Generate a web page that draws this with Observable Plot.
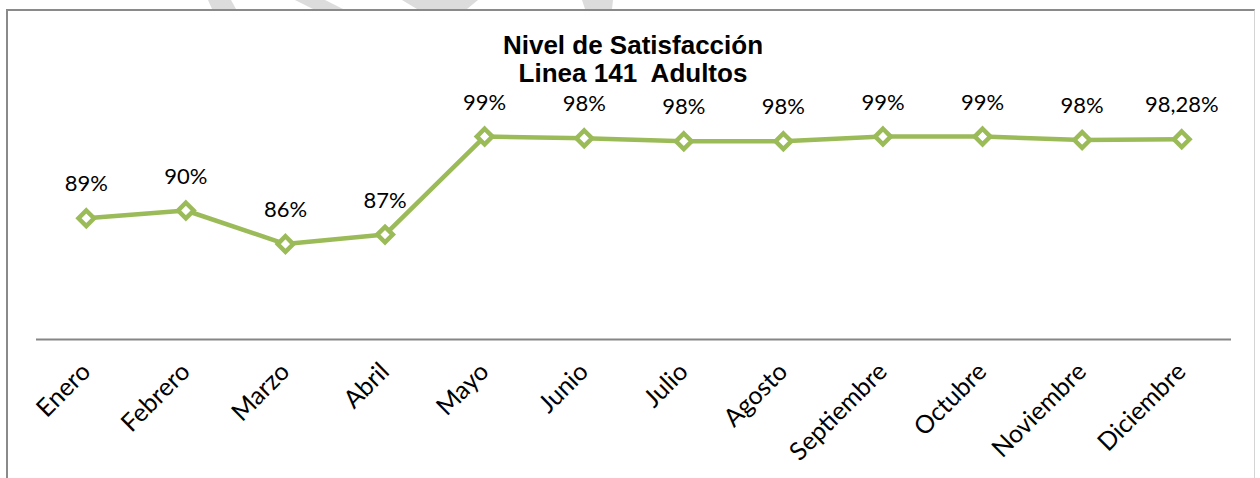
<!DOCTYPE html>
<html>
<head>
<meta charset="utf-8">
<script src="https://cdn.jsdelivr.net/npm/d3@7"></script>
<script src="https://cdn.jsdelivr.net/npm/@observablehq/plot@0.6"></script>
<style>
  html, body { margin: 0; padding: 0; background: #fff; }
  #wrap { position: relative; width: 1260px; height: 478px; overflow: hidden; background: #fff; }
  #wrap > * { position: absolute; left: 0; top: 0; }
  #frame { left: 6px; top: 9px; width: 1249px; height: 520px; border-left: 2px solid #8a8a8a; border-top: 2px solid #8a8a8a; border-right: 1.5px solid #d4d4d4; box-sizing: border-box; }
  #title { left: 0; top: 31px; width: 1266px; text-align: center; font-family: "Liberation Sans", Arial, sans-serif; font-weight: bold; font-size: 26px; line-height: 28px; color: #000; }
</style>
</head>
<body>
<div id="wrap">
  <svg id="wm" width="1260" height="10" viewBox="0 0 1260 10">
    <polygon points="208,0 231,0 236,9 212,9" fill="#dcdcdc"/>
    <polygon points="295,0 325,0 343,9 313,9" fill="#dcdcdc"/>
    <polygon points="402,0 478,0 467,9 417,9" fill="#dcdcdc"/>
    <polygon points="582,0 613,0 612,9 585,9" fill="#dcdcdc"/>
  </svg>
  <div id="frame"></div>
  <div id="chart"></div>
  <div id="title">Nivel de Satisfacción<br>Linea 141&nbsp; Adultos</div>
</div>
<script>
const months = ["Enero","Febrero","Marzo","Abril","Mayo","Junio","Julio","Agosto","Septiembre","Octubre","Noviembre","Diciembre"];
const values = [89.1, 90.0, 86.1, 87.2, 98.6, 98.4, 98.05, 98.05, 98.6, 98.6, 98.2, 98.28];
const labels = ["89%","90%","86%","87%","99%","98%","98%","98%","99%","99%","98%","98,28%"];

const data = months.map((m, i) => ({month: m, value: values[i], label: labels[i]}));
const green = "#9bbb59";

const chart = Plot.plot({
  width: 1260,
  height: 478,
  marginLeft: 36,
  marginRight: 29,
  marginTop: 124,
  marginBottom: 139,
  style: {fontFamily: "Lato, sans-serif", fontSize: "22px", color: "#000", background: "transparent", overflow: "visible"},
  x: {type: "band", domain: months, padding: 0, round: false, axis: null},
  y: {domain: [75, 100], axis: null},
  marks: [
    Plot.ruleY([75], {stroke: "#868686", strokeWidth: 2}),
    Plot.axisX({tickRotate: -45, tickSize: 0, tickPadding: 28, fontSize: 25, fill: "#000", label: null}),
    Plot.line(data, {x: "month", y: "value", stroke: green, strokeWidth: 4.5}),
    Plot.dot(data, {x: "month", y: "value", symbol: "diamond2", r: 7, fill: "#fff", stroke: green, strokeWidth: 4.5}),
    Plot.text(data, {x: "month", y: "value", text: "label", lineAnchor: "bottom", dy: -27, fontSize: 22, fill: "#000"})
  ]
});
document.getElementById("chart").appendChild(chart);
</script>
</body>
</html>
